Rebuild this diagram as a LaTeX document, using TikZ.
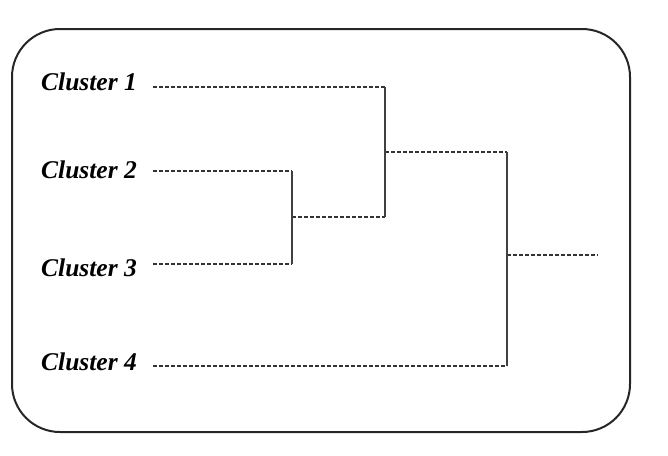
\documentclass[tikz,border=0pt]{standalone}
\usepackage{fontspec}
\setmainfont{Liberation Serif}
\begin{document}
\begin{tikzpicture}[x=1pt,y=-1pt,
  lbl/.style={font=\fontsize{25.5}{28}\selectfont\bfseries\itshape, anchor=west, inner sep=0pt},
  dsh/.style={line width=1.7pt, dash pattern=on 4pt off 2pt, draw=black!80},
  vln/.style={line width=1.9pt, draw=black!75}]
\useasboundingbox (0,0) rectangle (668,455);
\draw[line width=2pt, rounded corners=48pt, draw=black!85] (12,29) rectangle (630,432);
\node[lbl] (c1) at (41,82) {Cluster 1};
\node[lbl] (c2) at (41,170) {Cluster 2};
\node[lbl] (c3) at (41,268) {Cluster 3};
\node[lbl] (c4) at (41,362) {Cluster 4};
\coordinate (s1) at (153,87);
\coordinate (s2) at (153,171);
\coordinate (s3) at (153,264);
\coordinate (s4) at (153,366);
\coordinate (a1) at (292,171);
\coordinate (a2) at (292,264);
\coordinate (am) at (292,217);
\coordinate (b1) at (385,87);
\coordinate (b2) at (385,217);
\coordinate (bm) at (385,152);
\coordinate (d1) at (507,152);
\coordinate (d2) at (507,366);
\coordinate (dm) at (507,255);
\coordinate (root) at (598,255);
\draw[dsh] (s1) -- (b1);
\draw[dsh] (s2) -- (a1);
\draw[dsh] (s3) -- (a2);
\draw[dsh] (s4) -- (d2);
\draw[dsh] (am) -- (b2);
\draw[dsh] (bm) -- (d1);
\draw[dsh] (dm) -- (root);
\draw[vln] (a1) -- (a2);
\draw[vln] (b1) -- (b2);
\draw[vln] (d1) -- (d2);
\end{tikzpicture}
\end{document}
